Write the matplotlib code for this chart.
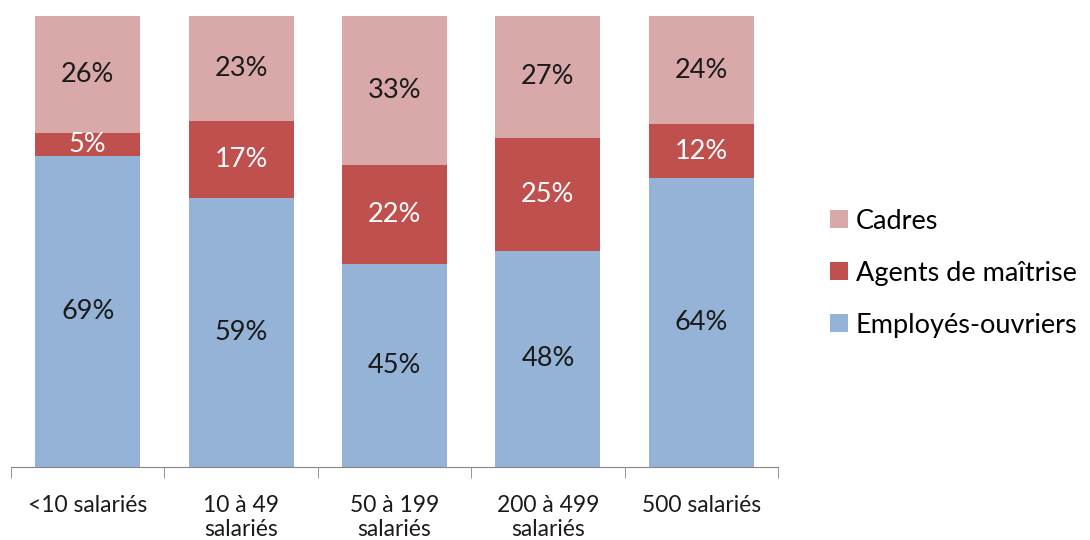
import matplotlib
matplotlib.use("Agg")
import matplotlib.pyplot as plt
import numpy as np

plt.rcParams['font.family'] = ['Lato', 'DejaVu Sans']

categories = ["<10 salariés", "10 à 49\nsalariés", "50 à 199\nsalariés",
              "200 à 499\nsalariés", "500 salariés"]
employes = [69, 59, 45, 48, 64]
agents = [5, 17, 22, 25, 12]
cadres = [26, 23, 33, 27, 24]

series = [("Employés-ouvriers", employes, "#95B3D7", "#1a1a1a"),
          ("Agents de maîtrise", agents, "#C0504D", "white"),
          ("Cadres", cadres, "#D9A9A9", "#1a1a1a")]

totals = np.array(employes) + np.array(agents) + np.array(cadres)

fig = plt.figure(figsize=(10.9, 5.4), dpi=100)
ax = fig.add_axes([0.0101, 0.1352, 0.7037, 0.8352])

x = np.arange(len(categories))
bottom = np.zeros(len(categories))
handles = []
for name, vals, col, tcol in series:
    share = np.array(vals) / totals
    b = ax.bar(x, share, 0.685, bottom=bottom, color=col, label=name)
    handles.append(b)
    for xi, v, s, bt in zip(x, vals, share, bottom):
        ax.text(xi, bt + s / 2, f"{v}%", ha="center", va="center",
                fontsize=19.5, color=tcol)
    bottom += share

ax.set_xlim(-0.5, 4.5)
ax.set_ylim(0, 1)
ax.set_yticks([])
for s in ["top", "right", "left"]:
    ax.spines[s].set_visible(False)
ax.spines["bottom"].set_color("#868686")
ax.set_xticks(x)
ax.set_xticklabels(categories, fontsize=16.5, color="#1a1a1a", linespacing=1.2)
ax.tick_params(axis="x", which="major", length=0, pad=20)
ax.set_xticks(np.arange(-0.5, 5, 1), minor=True)
ax.tick_params(axis="x", which="minor", length=8, color="#868686")

fig.legend(handles[::-1], [h.get_label() for h in handles[::-1]],
           loc="center left", bbox_to_anchor=(0.7615, 0.494), frameon=False,
           fontsize=19.5, handlelength=0.65, handleheight=0.65,
           handletextpad=0.3, labelspacing=1.0, borderpad=0, borderaxespad=0)

fig.savefig("out.png", dpi=100)
